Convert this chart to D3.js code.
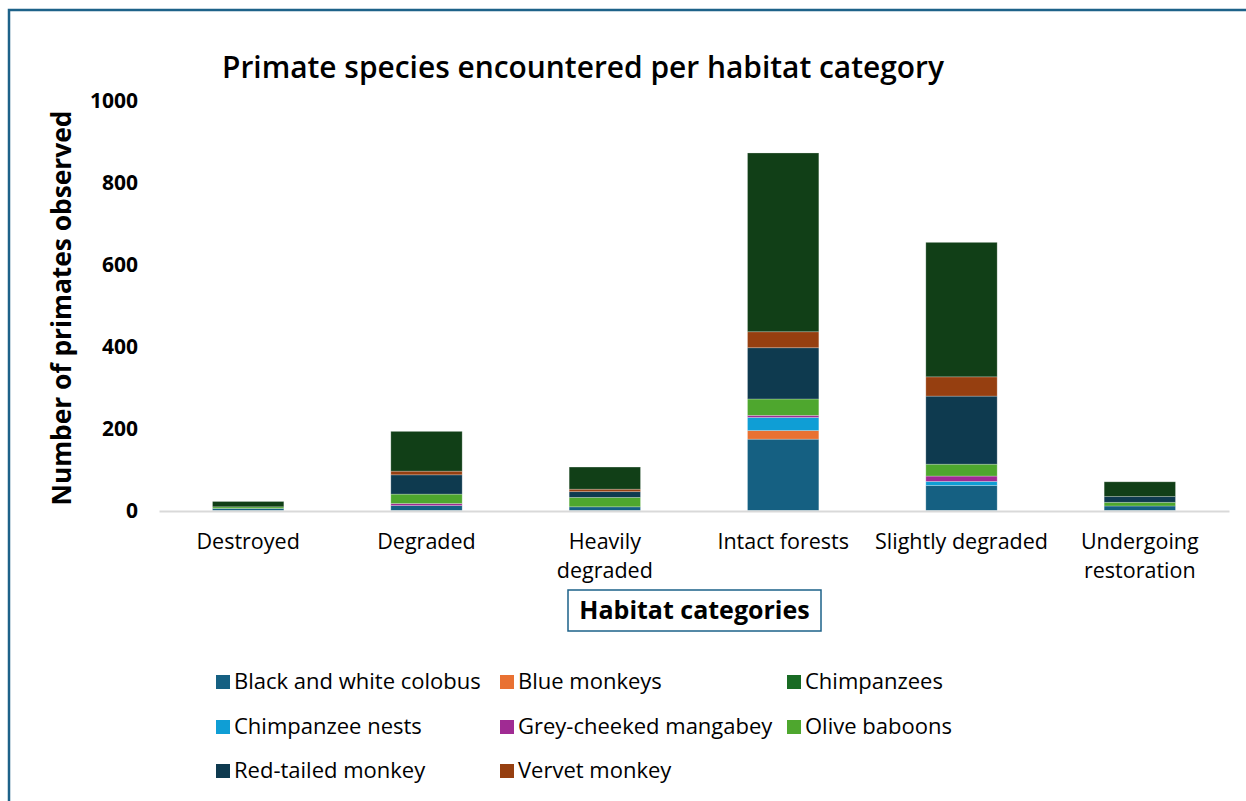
<!DOCTYPE html>
<html>
<head>
<meta charset="utf-8">
<script src="https://cdn.jsdelivr.net/npm/d3@7"></script>
<style>
  html, body { margin: 0; padding: 0; background: #ffffff; }
  svg { display: block; font-family: "Open Sans", "Noto Sans", sans-serif; }
</style>
</head>
<body>
<svg id="chart" width="1246" height="801"></svg>
<script>
// ---- Data ----
const categories = ["Destroyed", "Degraded", "Heavily degraded", "Intact forests", "Slightly degraded", "Undergoing restoration"];
const categoryLines = [["Destroyed"], ["Degraded"], ["Heavily", "degraded"], ["Intact forests"], ["Slightly degraded"], ["Undergoing", "restoration"]];
const legendOrder = ["Black and white colobus", "Blue monkeys", "Chimpanzees", "Chimpanzee nests", "Grey-cheeked mangabey", "Olive baboons", "Red-tailed monkey", "Vervet monkey"];
const stackOrder = ["Black and white colobus", "Blue monkeys", "Chimpanzee nests", "Grey-cheeked mangabey", "Olive baboons", "Red-tailed monkey", "Vervet monkey", "Chimpanzees"];
const colobus   = [5, 12, 9, 174, 61, 11];
const blueMonk  = [0, 0, 0, 21, 0, 0];
const chimps    = [13, 97, 54, 436, 328, 36];
const nests     = [0, 0, 0, 32, 10, 0];
const mangabey  = [0, 5, 0, 5, 13, 0];
const olive     = [4, 23, 23, 40, 29, 9];
const redTailed = [0, 47, 14, 125, 166, 14];
const vervet    = [0, 9, 6, 39, 47, 0];
const yTicks = [0, 200, 400, 600, 800, 1000];

const seriesValues = {
  "Black and white colobus": colobus,
  "Blue monkeys": blueMonk,
  "Chimpanzees": chimps,
  "Chimpanzee nests": nests,
  "Grey-cheeked mangabey": mangabey,
  "Olive baboons": olive,
  "Red-tailed monkey": redTailed,
  "Vervet monkey": vervet
};
const barColors = {
  "Black and white colobus": "#156082",
  "Blue monkeys": "#e97132",
  "Chimpanzees": "#113f17",
  "Chimpanzee nests": "#0f9ed5",
  "Grey-cheeked mangabey": "#a02b93",
  "Olive baboons": "#4ea72e",
  "Red-tailed monkey": "#0e3a4f",
  "Vervet monkey": "#963f10"
};
const legendColors = Object.assign({}, barColors, {"Chimpanzees": "#196b24"});

// ---- Build table ----
const table = categories.map((c, i) => {
  const row = {category: c};
  stackOrder.forEach(k => row[k] = seriesValues[k][i]);
  return row;
});

const svg = d3.select("#chart");

// frame
svg.append("rect").attr("x", 9).attr("y", 10).attr("width", 1260).attr("height", 820)
  .attr("fill", "none").attr("stroke", "#1d6289").attr("stroke-width", 2.5);

const x = d3.scaleBand().domain(categories).range([159, 1229]).paddingInner(0.6).paddingOuter(0.3);
const y = d3.scaleLinear().domain([0, 1000]).range([510.5, 100.5]);

// title
svg.append("text").attr("x", 583).attr("y", 78).attr("text-anchor", "middle")
  .attr("font-size", 30).attr("font-weight", 600).attr("fill", "#000")
  .attr("textLength", 722).attr("lengthAdjust", "spacingAndGlyphs")
  .text("Primate species encountered per habitat category");

// y axis labels
const yAxis = d3.axisLeft(y).tickValues(yTicks).tickSize(0).tickPadding(0).tickFormat(d3.format("d"));
const yg = svg.append("g").attr("transform", "translate(138,0)").call(yAxis);
yg.select(".domain").remove();
yg.selectAll("text").attr("font-size", 21).attr("font-weight", 700).attr("fill", "#000")
  .attr("font-family", "'Open Sans', sans-serif");

// y title
svg.append("text").attr("transform", "translate(71,308) rotate(-90)")
  .attr("text-anchor", "middle").attr("font-size", 26).attr("font-weight", 700).attr("fill", "#000")
  .attr("textLength", 395).attr("lengthAdjust", "spacingAndGlyphs")
  .text("Number of primates observed");

// bars
const stack = d3.stack().keys(stackOrder);
const stacked = stack(table);
svg.append("g").selectAll("g").data(stacked).join("g")
  .attr("fill", d => barColors[d.key])
  .selectAll("rect").data(d => d).join("rect")
  .attr("x", d => x(d.data.category))
  .attr("width", x.bandwidth())
  .attr("y", d => y(d[1]))
  .attr("height", d => Math.max(0, y(d[0]) - y(d[1])))
  .attr("stroke", "rgba(255,255,255,0.3)").attr("stroke-width", 0.8);

// x axis line
const xAxis = d3.axisBottom(x).tickSize(0).tickFormat("");
const xg = svg.append("g").attr("transform", "translate(0,511)").call(xAxis);
xg.select(".domain").attr("stroke", "#d9d9d9").attr("stroke-width", 2);

// x labels
categories.forEach((c, i) => {
  const t = svg.append("text").attr("x", x(c) + x.bandwidth() / 2).attr("y", 549)
    .attr("text-anchor", "middle").attr("font-size", 21.5).attr("fill", "#000");
  categoryLines[i].forEach((ln, j) => {
    t.append("tspan").attr("x", x(c) + x.bandwidth() / 2).attr("dy", j === 0 ? 0 : 29).text(ln);
  });
});

// x title box
svg.append("rect").attr("x", 568).attr("y", 590).attr("width", 253).attr("height", 41)
  .attr("fill", "#fff").attr("stroke", "#1d6289").attr("stroke-width", 1.5);
svg.append("text").attr("x", 694.5).attr("y", 619).attr("text-anchor", "middle")
  .attr("font-size", 25).attr("font-weight", 700).attr("fill", "#000")
  .text("Habitat categories");

// legend
const colX = [216, 500, 787];
const rowY = [682, 727, 771];
legendOrder.forEach((k, i) => {
  const cx = colX[i % 3], cy = rowY[Math.floor(i / 3)];
  svg.append("rect").attr("x", cx).attr("y", cy - 7).attr("width", 14).attr("height", 14)
    .attr("fill", legendColors[k]);
  svg.append("text").attr("x", cx + 18).attr("y", cy + 7).attr("font-size", 22).attr("fill", "#000").text(k);
});
</script>
</body>
</html>
